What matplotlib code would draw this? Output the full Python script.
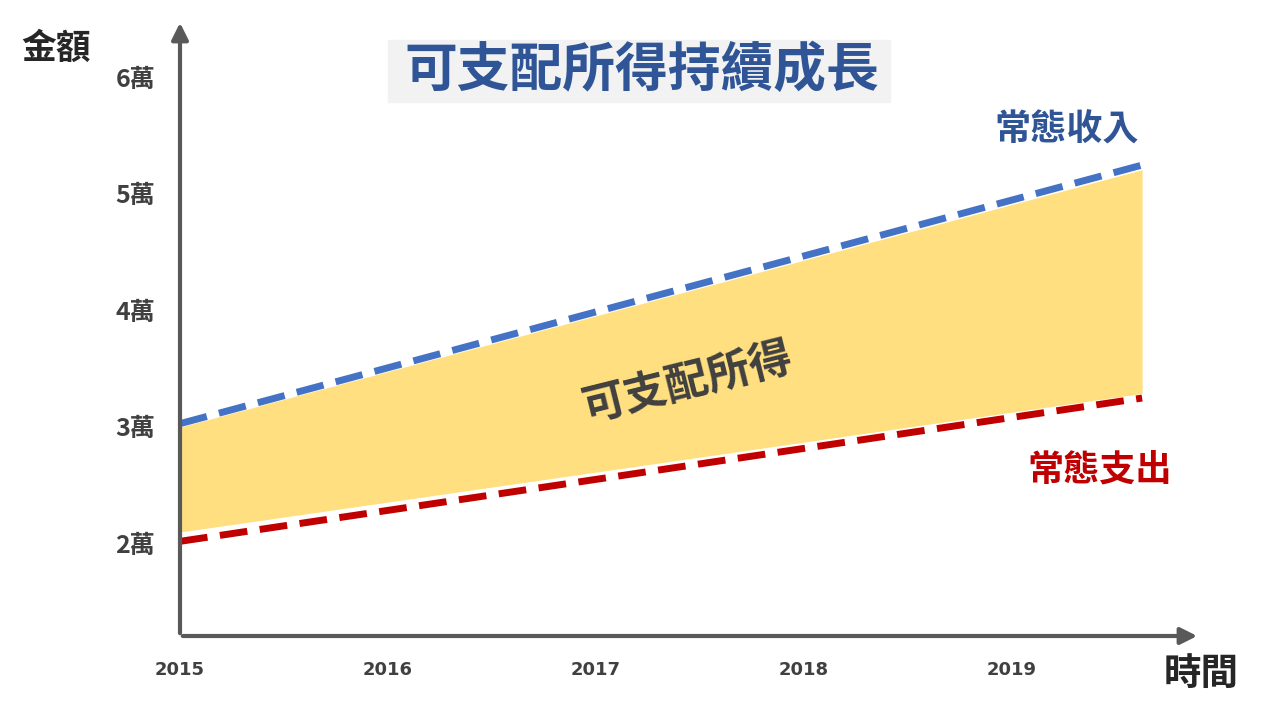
import matplotlib
matplotlib.use("Agg")
import matplotlib.pyplot as plt

plt.rcParams["font.family"] = "Noto Sans CJK TC"

years = [2015, 2019.63]
income = [3.05, 5.27]
expense = [2.04, 3.27]
fill_top = [3.02, 5.23]
fill_bot = [2.12, 3.31]
xticks = [2015, 2016, 2017, 2018, 2019]
yticks = [2, 3, 4, 5, 6]
ytick_labels = ["2萬", "3萬", "4萬", "5萬", "6萬"]

fig = plt.figure(figsize=(12.62, 7.18), dpi=100)
W, H = 1262, 718
x0, x1 = 180, 1200
yb, yt = 636, 20
ax = fig.add_axes([x0 / W, 1 - yb / H, (x1 - x0) / W, (yb - yt) / H])
ax.set_xlim(2015, 2015 + (x1 - x0) / 207.8)
ax.set_ylim(2 - (yb - 546) / 116.5, 6 + (80 - yt) / 116.5)

ax.fill_between(years, fill_bot, fill_top, color="#FFDF80", lw=0)
ax.plot(years, income, color="#4472C4", lw=5, dashes=(4, 1.8))
ax.plot(years, expense, color="#C00000", lw=5, dashes=(4, 1.8))

for s in ["top", "right", "left", "bottom"]:
    ax.spines[s].set_visible(False)
ax.set_xticks([])
ax.set_yticks([])
gray = "#595959"
ax.annotate("", xy=(1.0, 0), xytext=(0, 0), xycoords="axes fraction",
            arrowprops=dict(arrowstyle="-|>", color=gray, lw=3, mutation_scale=25))
ax.annotate("", xy=(0, 1.0), xytext=(0, 0), xycoords="axes fraction",
            arrowprops=dict(arrowstyle="-|>", color=gray, lw=3, mutation_scale=25))

for v, lab in zip(yticks, ytick_labels):
    ax.text(2015 - 0.12, v, lab, ha="right", va="center", fontsize=18,
            fontweight="bold", color="#404040")
for yr in xticks:
    ax.text(yr, 2 - (670 - 546) / 116.5, str(yr), ha="center", va="center",
            fontsize=13, fontweight="bold", color="#404040", family="DejaVu Sans")

fig.text(56 / W, 1 - 48 / H, "金額", ha="center", va="center", fontsize=25,
         fontweight="bold", color="#262626")
fig.text(1201 / W, 1 - 673 / H, "時間", ha="center", va="center", fontsize=27,
         fontweight="bold", color="#262626")
fig.patches.append(plt.Rectangle((388 / W, 1 - 102 / H), 502 / W, 62 / H,
                                 transform=fig.transFigure, color="#F2F2F2", zorder=0))
fig.text(642 / W, 1 - 70 / H, "可支配所得持續成長", ha="center", va="center",
         fontsize=38, fontweight="bold", color="#2F5597")
fig.text(1067 / W, 1 - 130 / H, "常態收入", ha="center", va="center", fontsize=26,
         fontweight="bold", color="#2F5597")
fig.text(1100 / W, 1 - 470 / H, "常態支出", ha="center", va="center", fontsize=26,
         fontweight="bold", color="#C00000")
fig.text(688 / W, 1 - 383 / H, "可支配所得", ha="center", va="center", fontsize=31,
         fontweight="bold", color="#404040", rotation=14)

fig.savefig("out.png", dpi=100)
